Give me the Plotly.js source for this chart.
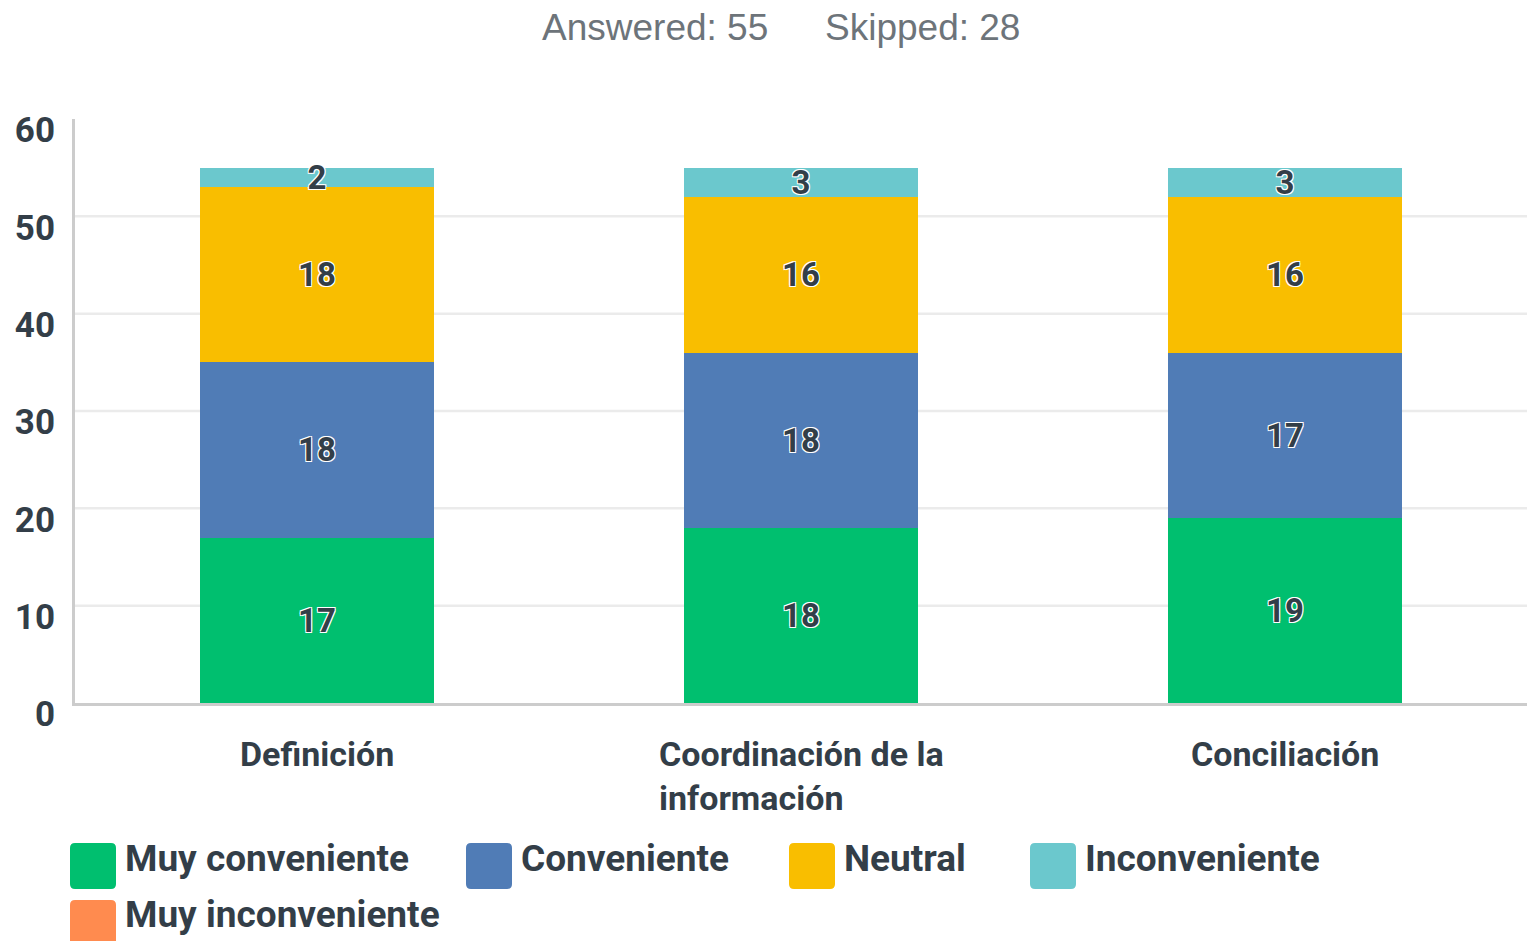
<!DOCTYPE html>
<html>
<head>
<meta charset="utf-8">
<script src="https://cdn.plot.ly/plotly-3.0.1.min.js"></script>
<style>html,body{margin:0;padding:0;background:#fff;}#chart{width:1527px;height:941px;}</style>
</head>
<body>
<div id="chart"></div>
<script>
// ---- data ----
const categories = ['Definición', 'Coordinación de la información', 'Conciliación'];
const tickLabels = ['Definición', 'Coordinación de la<br>información', 'Conciliación'];
const seriesNames = ['Muy conveniente', 'Conveniente', 'Neutral', 'Inconveniente', 'Muy inconveniente'];
const muyConveniente = [17, 18, 19];
const conveniente = [18, 18, 17];
const neutral = [18, 16, 16];
const inconveniente = [2, 3, 3];
const muyInconveniente = [0, 0, 0];
const seriesColors = ['#00BF6F', '#507CB6', '#F9BE00', '#6BC8CD', '#FF8B4F'];
const yTicks = [0, 10, 20, 30, 40, 50, 60];
const answered = 55;
const skipped = 28;

// ---- styling / layout helpers ----
const W = 1527, H = 941;
const M = {l: 75, r: 0, t: 119, b: 238};
const PW = W - M.l - M.r, PH = H - M.t - M.b;
const px = x => (x - M.l) / PW;
const py = y => (H - M.b - y) / PH;
const textColor = '#333e48';
const FONT = 'Roboto, "Noto Sans", sans-serif';

const allSeries = [muyConveniente, conveniente, neutral, inconveniente, muyInconveniente];

const traces = allSeries.map((vals, i) => ({
  type: 'bar',
  name: seriesNames[i],
  x: categories,
  y: vals,
  text: vals.map(v => v > 0 ? String(v) : ''),
  textposition: 'inside',
  insidetextanchor: 'middle',
  textangle: 0,
  constraintext: 'none',
  cliponaxis: false,
  textfont: {family: FONT, size: 33, weight: 700, color: textColor,
             shadow: '1px 1px 0 #fff, -1px -1px 0 #fff, 1px -1px 0 #fff, -1px 1px 0 #fff'},
  marker: {color: seriesColors[i], line: {width: 0}},
  hoverinfo: 'skip',
  showlegend: false
}));

// gridlines (no line at the top tick)
const shapes = yTicks.filter(t => t > 0 && t < 60).map(t => ({
  type: 'line', xref: 'paper', yref: 'y', x0: 0, x1: 1, y0: t, y1: t,
  line: {color: '#ebebeb', width: 2.5}, layer: 'below'
}));

// legend layout (pixel positions of swatches)
const legendPos = [[70, 843], [466, 843], [789, 843], [1030, 843], [70, 900]];
const half = 23, rr = 5;
const rpath = `M${-half+rr},${-half} H${half-rr} Q${half},${-half} ${half},${-half+rr} V${half-rr} Q${half},${half} ${half-rr},${half} H${-half+rr} Q${-half},${half} ${-half},${half-rr} V${-half+rr} Q${-half},${-half} ${-half+rr},${-half} Z`;
const annotations = [];
seriesNames.forEach((name, i) => {
  const [lx, ly] = legendPos[i];
  shapes.push({
    type: 'path', xref: 'paper', yref: 'paper', xsizemode: 'pixel', ysizemode: 'pixel',
    xanchor: px(lx + half), yanchor: py(ly + half), path: rpath,
    fillcolor: seriesColors[i], line: {width: 0}
  });
  annotations.push({
    xref: 'paper', yref: 'paper', x: px(lx + 53), y: py(ly + 15),
    xanchor: 'left', yanchor: 'middle', showarrow: false, text: name,
    font: {family: FONT, size: 37, weight: 700, color: textColor}
  });
});

// category labels (left aligned multi-line)
categories.forEach((c, i) => {
  annotations.push({
    xref: 'x', yref: 'paper', x: c, y: py(732), xanchor: 'center', yanchor: 'top',
    align: 'left', showarrow: false, text: tickLabels[i],
    font: {family: FONT, size: 34, weight: 700, color: textColor}
  });
});

// header
const headFont = {family: '"Liberation Sans", Arial, sans-serif', size: 37, color: '#6d747a'};
annotations.push({
  xref: 'paper', yref: 'paper', x: px(655), y: py(27), xanchor: 'center', yanchor: 'middle',
  showarrow: false, text: 'Answered: ' + answered, font: headFont
});
annotations.push({
  xref: 'paper', yref: 'paper', x: px(922), y: py(27), xanchor: 'center', yanchor: 'middle',
  showarrow: false, text: 'Skipped: ' + skipped, font: headFont
});

const layout = {
  width: W, height: H,
  margin: M,
  paper_bgcolor: '#fff', plot_bgcolor: '#fff',
  barmode: 'stack',
  bargap: 0.517,
  showlegend: false,
  xaxis: {
    type: 'category', range: [-0.5, 2.5], showticklabels: false, ticks: '',
    showgrid: false, zeroline: false, showline: true, linecolor: '#cccccc', linewidth: 3,
    fixedrange: true
  },
  yaxis: {
    range: [0, 60], tickvals: yTicks, ticktext: yTicks.map(String),
    showgrid: false, zeroline: false, showline: true, linecolor: '#cccccc', linewidth: 3,
    ticks: '', ticklabelshift: 11, ticklabelstandoff: 10,
    tickfont: {family: FONT, size: 35, weight: 700, color: textColor},
    fixedrange: true
  },
  shapes: shapes,
  annotations: annotations
};

Plotly.newPlot('chart', traces, layout, {displayModeBar: false, staticPlot: true});
</script>
</body>
</html>
